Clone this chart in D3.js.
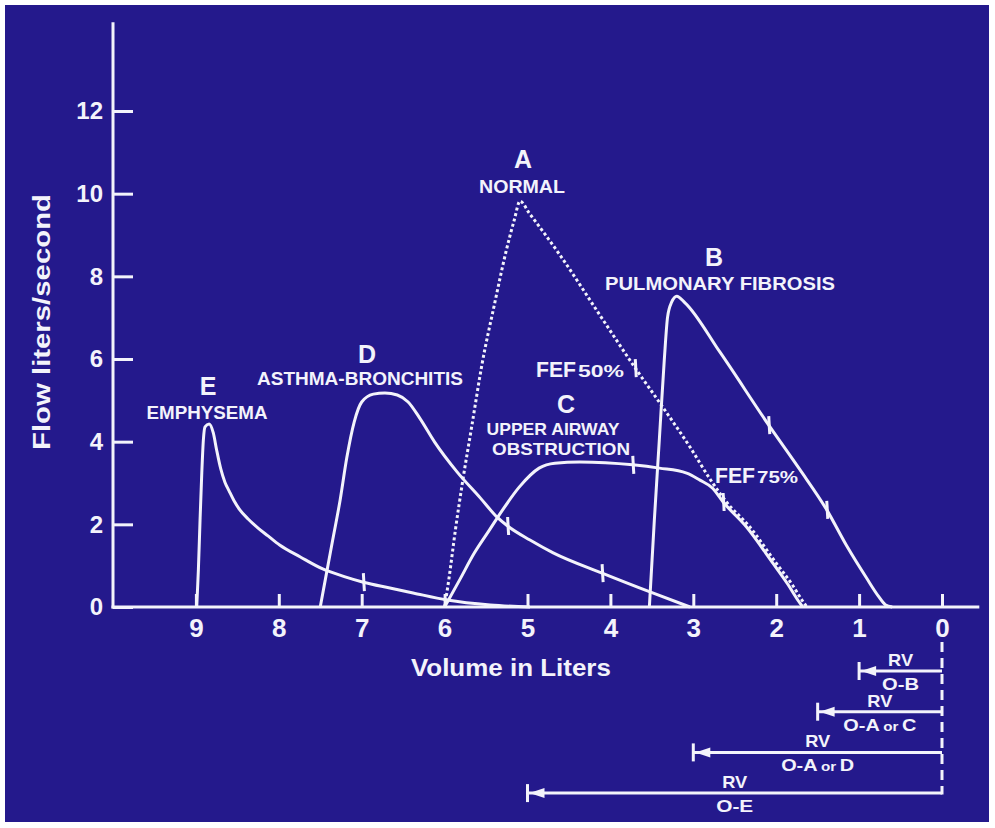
<!DOCTYPE html>
<html>
<head>
<meta charset="utf-8">
<script src="https://cdn.jsdelivr.net/npm/d3@7"></script>
<style>
  body { margin: 0; background: #ffffff; }
  svg { display: block; }
  text { font-family: "Liberation Sans", Arial, Helvetica, sans-serif; fill: #f3f3fb; }
</style>
</head>
<body>
<svg id="chart" width="995" height="828"></svg>
<script>
// Maximal expiratory flow-volume curves: volume (liters) vs flow (liters/second)
const volumeTicks = [9, 8, 7, 6, 5, 4, 3, 2, 1, 0];
const flowTicks = [0, 2, 4, 6, 8, 10, 12];

// [volume, flow] points for each curve
const curveA = [[6.00,0],[5.95,0.65],[5.87,1.86],[5.78,3.07],[5.67,4.40],[5.55,5.86],[5.40,7.31],[5.26,8.59],[5.16,9.36],[5.09,9.82],[4.98,9.53],[4.61,8.52],[4.13,7.07],[3.70,5.78],[3.37,4.84],[3.04,3.87],[2.79,3.07],[2.60,2.54],[2.32,1.94],[2.00,1.06],[1.80,0.52],[1.69,0.17],[1.63,0]];
const curveB = [[3.53,0],[3.47,2.10],[3.41,4.04],[3.35,5.98],[3.31,7.02],[3.26,7.38],[3.20,7.52],[3.10,7.36],[2.68,6.17],[2.09,4.40],[1.72,3.34],[1.39,2.35],[1.15,1.48],[0.91,0.70],[0.77,0.27],[0.68,0.05],[0.60,0]];
const curveC = [[6.00,0],[5.82,0.65],[5.64,1.31],[5.46,1.86],[5.30,2.35],[5.10,2.90],[4.86,3.36],[4.67,3.48],[4.37,3.51],[3.73,3.44],[3.41,3.36],[3.08,3.24],[2.92,3.07],[2.77,2.88],[2.64,2.54],[2.36,1.94],[2.04,1.06],[1.86,0.55],[1.74,0.17],[1.68,0]];
const curveD = [[7.50,0],[7.44,0.65],[7.35,1.62],[7.26,2.59],[7.18,3.61],[7.09,4.48],[7.00,4.96],[6.86,5.15],[6.72,5.18],[6.57,5.13],[6.44,4.96],[6.30,4.57],[6.12,3.99],[5.85,3.27],[5.57,2.64],[5.37,2.18],[5.24,1.96],[4.97,1.62],[4.69,1.31],[4.10,0.82],[3.49,0.34],[3.04,0]];
const curveE = [[8.99,0],[8.97,0.90],[8.95,2.10],[8.93,3.19],[8.91,4.04],[8.89,4.36],[8.84,4.43],[8.79,4.21],[8.75,3.80],[8.70,3.34],[8.65,3.02],[8.60,2.81],[8.54,2.57],[8.47,2.35],[8.37,2.13],[8.25,1.91],[8.13,1.72],[7.99,1.50],[7.74,1.21],[7.47,0.92],[7.20,0.73],[6.98,0.60],[6.66,0.46],[6.38,0.34],[5.97,0.17],[5.45,0.05],[4.97,0]];

// Volume markers on the curves [volume, flow]
const markersA = [[3.70,5.78]];
const markersB = [[2.09,4.40],[1.39,2.35]];
const markersC = [[3.73,3.44],[2.64,2.54]];
const markersD = [[5.24,1.96],[4.10,0.82]];
const markersE = [[6.98,0.60]];

// Residual volume brackets (liters from 0)
const rvVolumes = [1.0, 1.5, 3.0, 5.0];
const rvLabels = ["O-B", "O-A or C", "O-A or D", "O-E"];

const svg = d3.select("#chart");
const ink = "#f3f3fb";

svg.append("rect").attr("x", 5).attr("y", 5).attr("width", 984).attr("height", 817).attr("fill", "#24198c");

const x = d3.scaleLinear().domain([10, 0]).range([113, 942]);
const y = d3.scaleLinear().domain([0, 12]).range([607, 111]);

// Axes
const gy = svg.append("g").attr("transform", `translate(${x(10)},0)`)
  .call(d3.axisLeft(y).tickValues(flowTicks).tickSizeInner(-20).tickSizeOuter(0).tickPadding(10));
gy.select(".domain").remove();
gy.selectAll(".tick line").attr("stroke", ink).attr("stroke-width", 3);
gy.selectAll(".tick text").attr("font-size", 24).attr("font-weight", "bold").attr("fill", ink).attr("font-family", null);

const gx = svg.append("g").attr("transform", `translate(0,${y(0)})`)
  .call(d3.axisBottom(x).tickValues(volumeTicks).tickSizeInner(-13).tickSizeOuter(0).tickPadding(12));
gx.select(".domain").remove();
gx.selectAll(".tick line").attr("stroke", ink).attr("stroke-width", 3);
gx.selectAll(".tick text").attr("font-size", 26).attr("font-weight", "bold").attr("fill", ink).attr("font-family", null);

svg.append("line").attr("x1", x(10)).attr("x2", x(10)).attr("y1", y(14.15)).attr("y2", y(0) + 1.5)
  .attr("stroke", ink).attr("stroke-width", 3);
svg.append("line").attr("x1", x(10) - 1.5).attr("x2", x(-0.45)).attr("y1", y(0)).attr("y2", y(0))
  .attr("stroke", ink).attr("stroke-width", 3);

// Axis titles
svg.append("text").attr("x", x(5.2)).attr("y", 676).attr("text-anchor", "middle").attr("font-weight", "bold")
  .attr("font-size", 24).attr("textLength", 200).attr("lengthAdjust", "spacingAndGlyphs").text("Volume in Liters");
svg.append("text").attr("transform", "translate(50,322) rotate(-90)").attr("text-anchor", "middle").attr("font-weight", "bold")
  .attr("font-size", 23).attr("textLength", 256).attr("lengthAdjust", "spacingAndGlyphs").text("Flow liters/second");

// Curves
const line = d3.line().x(d => x(d[0])).y(d => y(d[1])).curve(d3.curveMonotoneX);
const curves = [
  { data: curveE, dash: null },
  { data: curveD, dash: null },
  { data: curveC, dash: null },
  { data: curveB, dash: null },
  { data: curveA, dash: "3,2.6" }
];
curves.forEach(c => {
  svg.append("path").attr("d", line(c.data)).attr("fill", "none").attr("stroke", ink)
    .attr("stroke-width", 3).attr("stroke-linejoin", "round")
    .attr("stroke-dasharray", c.dash);
});

// Volume markers
[markersA, markersB, markersC, markersD, markersE].forEach(ms => {
  ms.forEach(m => {
    svg.append("line").attr("x1", x(m[0])).attr("x2", x(m[0]) + 1)
      .attr("y1", y(m[1]) - 9).attr("y2", y(m[1]) + 9)
      .attr("stroke", ink).attr("stroke-width", 3);
  });
});

// Curve labels
const labels = [
  { t: "A", x: 523, y: 168, s: 25 },
  { t: "NORMAL", x: 522, y: 193, s: 18, w: 86 },
  { t: "B", x: 714, y: 266, s: 25 },
  { t: "PULMONARY FIBROSIS", x: 720, y: 290, s: 19, w: 230 },
  { t: "C", x: 566, y: 413, s: 25 },
  { t: "UPPER AIRWAY", x: 553, y: 435, s: 17, w: 133 },
  { t: "OBSTRUCTION", x: 561, y: 455, s: 17, w: 138 },
  { t: "D", x: 367, y: 363, s: 25 },
  { t: "ASTHMA-BRONCHITIS", x: 360, y: 385, s: 18, w: 206 },
  { t: "E", x: 208, y: 395, s: 25 },
  { t: "EMPHYSEMA", x: 207, y: 419, s: 18, w: 121 }
];
labels.forEach(l => {
  const t = svg.append("text").attr("x", l.x).attr("y", l.y).attr("text-anchor", "middle")
    .attr("font-weight", "bold").attr("font-size", l.s).text(l.t);
  if (l.w) t.attr("textLength", l.w).attr("lengthAdjust", "spacingAndGlyphs");
});

// FEF labels
function fef(xp, yp, pct, w1, w2) {
  const t = svg.append("text").attr("x", xp).attr("y", yp).attr("font-weight", "bold");
  t.append("tspan").attr("font-size", 22).attr("textLength", w1).attr("lengthAdjust", "spacingAndGlyphs").text("FEF");
  t.append("tspan").attr("font-size", 17).attr("dx", 2).attr("textLength", w2).attr("lengthAdjust", "spacingAndGlyphs").text(pct);
}
fef(536, 377, "50%", 40, 46);
fef(715, 483, "75%", 40, 41);

// Residual volume brackets
const rowY = i => 671 + i * 40.7;
svg.append("line").attr("x1", x(0)).attr("x2", x(0)).attr("y1", 642).attr("y2", rowY(3) + 1.5)
  .attr("stroke", ink).attr("stroke-width", 3).attr("stroke-dasharray", "10,6");
rvVolumes.forEach((v, i) => {
  const yy = rowY(i), xe = x(v), x0 = x(0);
  svg.append("line").attr("x1", xe).attr("x2", x0).attr("y1", yy).attr("y2", yy)
    .attr("stroke", ink).attr("stroke-width", 3);
  svg.append("line").attr("x1", xe).attr("x2", xe).attr("y1", yy - 9).attr("y2", yy + 9)
    .attr("stroke", ink).attr("stroke-width", 3);
  svg.append("path").attr("d", `M${xe + 2},${yy} L${xe + 17},${yy - 5} L${xe + 17},${yy + 5} Z`).attr("fill", ink);
  const mid = (xe + x0) / 2;
  svg.append("text").attr("x", mid).attr("y", yy - 5).attr("text-anchor", "middle").attr("font-weight", "bold")
    .attr("font-size", 17).attr("textLength", 25).attr("lengthAdjust", "spacingAndGlyphs").text("RV");
  const sub = svg.append("text").attr("x", mid).attr("y", yy + 19).attr("text-anchor", "middle")
    .attr("font-weight", "bold").attr("font-size", 17);
  const parts = rvLabels[i].split(" or ");
  if (parts.length === 2) {
    sub.attr("textLength", 73).attr("lengthAdjust", "spacingAndGlyphs");
    sub.append("tspan").text(parts[0]);
    sub.append("tspan").attr("font-size", 13).attr("dx", 3).text("or");
    sub.append("tspan").attr("dx", 3).text(parts[1]);
  } else {
    sub.attr("textLength", 37).attr("lengthAdjust", "spacingAndGlyphs").text(rvLabels[i]);
  }
});
</script>
</body>
</html>
